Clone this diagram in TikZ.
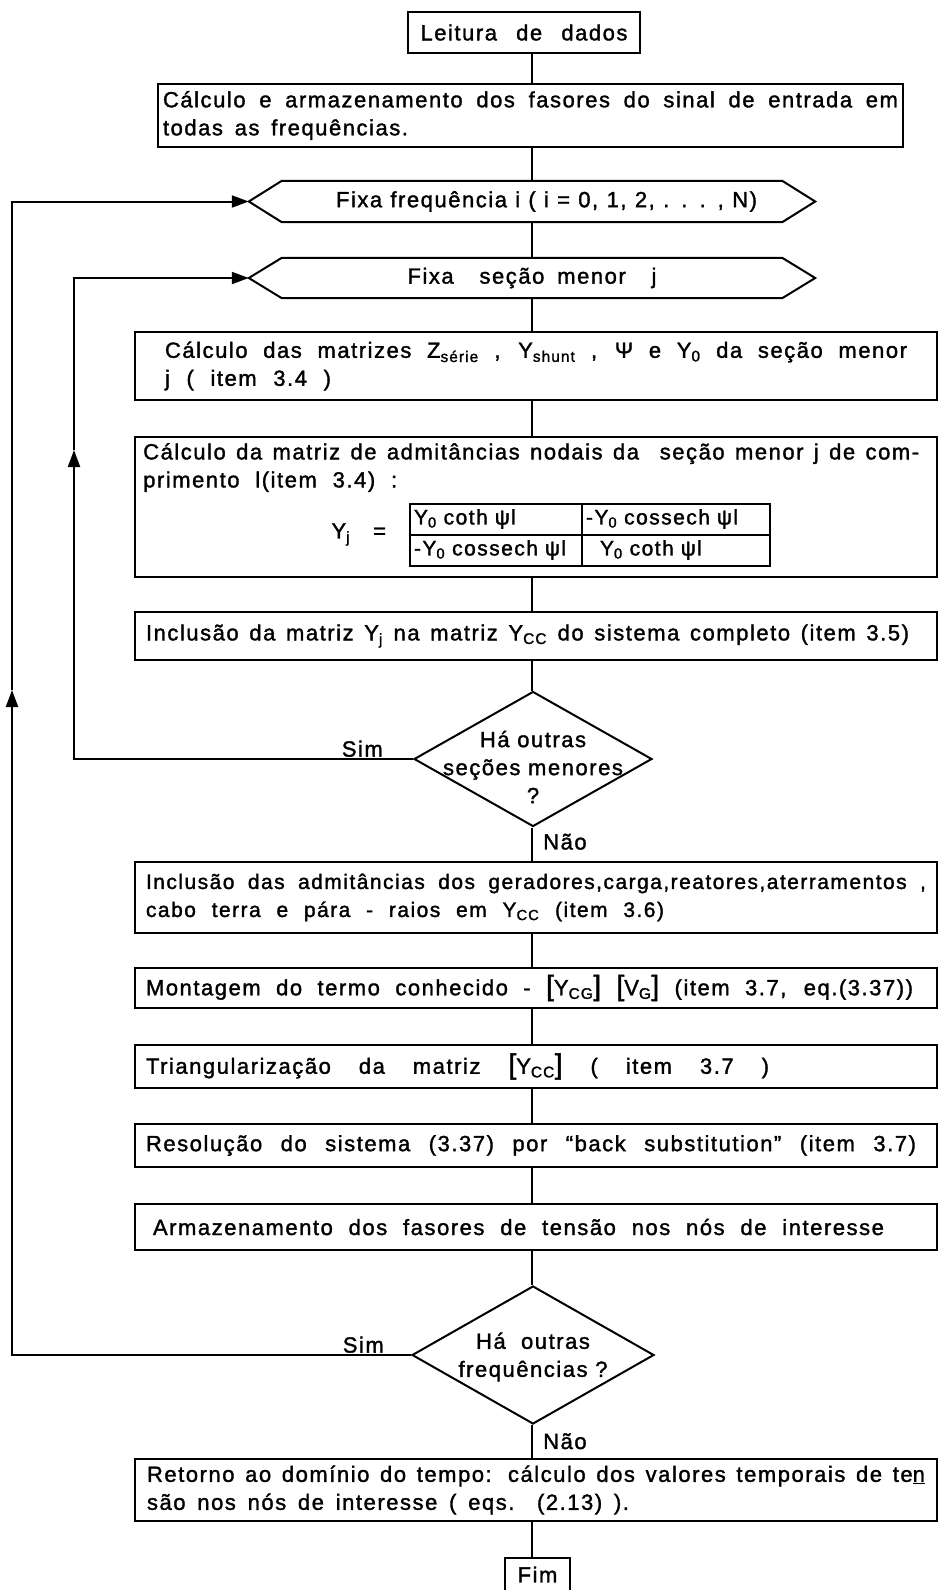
\documentclass[tikz,border=0pt]{standalone}
\usepackage{fontspec}
\setmainfont{Liberation Sans}[LetterSpace=7,FakeBold=1.5]
\usetikzlibrary{arrows.meta,positioning,calc,shapes.geometric,matrix}

% tall square brackets round a matrix name
\newcommand\mbr[1]{{\fontsize{28}{28}\selectfont[}#1{\fontsize{28}{28}\selectfont]}}
% a line of text spread out to a given width
\newcommand\spread[2]{{\spaceskip=0pt\xspaceskip=0pt\makebox[#1][s]{#2}}}
% hexagon (preparation symbol) round a named node
\newcommand\hexa[1]{\draw[line width=2pt] (#1.north west) -- (#1.north east) -- ($(#1.east)+(33,0)$) -- (#1.south east) -- (#1.south west) -- ($(#1.west)+(-33,0)$) -- cycle;}

\begin{document}
\begin{tikzpicture}[x=1pt,y=-1pt,
    every node/.style={font=\fontsize{22}{28}\selectfont},
    small/.style={font=\fontsize{21}{28}\selectfont},
    box/.style={draw,line width=2pt,inner sep=0pt,align=center},
    para/.style={box,minimum width=802pt,align=justify},
    prep/.style={inner sep=0pt,minimum width=500pt},
    decision/.style={diamond,draw,line width=2pt,inner sep=0pt},
    line/.style={line width=2pt},
    arr/.style={line width=2pt,-{Triangle[length=17pt,width=12pt]}},
    lbl/.style={inner sep=2pt}
  ]
  \useasboundingbox (0,0) rectangle (940,1590);

  \node[box,minimum width=232pt,minimum height=41pt] (lei) at (524,32.5) {\spread{207pt}{Leitura de dados}};
  \node[box,minimum width=745pt,minimum height=63pt,text width=735pt,align=justify] (fas) at (530.5,115.5)
    {Cálculo e armazenamento dos fasores do sinal de entrada em\linebreak \spread{245pt}{todas as frequências.}};

  \node[prep,minimum height=41pt] (frq) at (532,201.5) {\hspace*{29pt}\spread{421pt}{Fixa\ frequência i ( i = 0, 1, 2, . . . , N)}};
  \hexa{frq}
  \node[prep,minimum height=40pt] (sec) at (532,278) {\spread{249pt}{Fixa \ seção menor \ j}};
  \hexa{sec}

  \node[para,minimum height=68pt,text width=742pt] (mat) at (536,366)
    {Cálculo das matrizes Z\textsubscript{série} , Y\textsubscript{shunt} , Ψ e Y\textsubscript{0} da seção menor\linebreak \spread{166pt}{j ( item 3.4 )}};

  \node[box,minimum width=802pt,minimum height=140pt] (adm) at (536,507) {};
  \node[anchor=north west,inner sep=0pt,text width=776pt,align=justify] (admt) at (143,443)
    {Cálculo da matriz de admitâncias nodais da\ \ seção menor j de com-\linebreak \spread{254pt}{primento l(item 3.4) :}};
  \matrix (ymat) [matrix of nodes,
      nodes={small,draw,line width=2pt,minimum height=31pt,inner xsep=4pt,inner ysep=0pt,align=left},
      column 1/.style={nodes={text width=164pt}},
      column 2/.style={nodes={text width=180pt}},
      column sep=-2pt,row sep=-2pt] at (590,534.5) {
    Y\textsubscript{0} coth ψl & -Y\textsubscript{0} cossech ψl \\
    -Y\textsubscript{0} cossech ψl & \hspace*{14pt}Y\textsubscript{0} coth ψl \\
  };
  \node[left=16pt of ymat] (yj) {Y\textsubscript{j}\ \ \ =};

  \node[para,minimum height=48pt,text width=780pt,align=left] (inc) at (536,636)
    {\spread{763pt}{Inclusão da matriz Y\textsubscript{j} na matriz Y\textsubscript{CC} do sistema completo (item 3.5)}};

  \node[decision,minimum width=238pt,minimum height=135pt] (dec1) at (533,759) {};
  \node[align=center,inner sep=0pt] (dec1t) at (533,767) {Há outras\\seções menores\\?};
  \node[lbl,above left=0pt and 28pt of dec1.west] (sim1) {Sim};
  \node[lbl,anchor=north west] (nao1) at ($(dec1.south)+(8,4)$) {Não};

  \node[para,small,minimum height=71pt,text width=780pt] (ger) at (536,897.5)
    {Inclusão das admitâncias dos geradores,carga,reatores,aterramentos ,\linebreak \spread{518pt}{cabo terra e pára - raios em Y\textsubscript{CC} (item 3.6)}};
  \node[para,minimum height=40pt,text width=780pt,align=left] (mon) at (536,988)
    {\spread{767pt}{Montagem do termo conhecido - \mbr{Y\textsubscript{CG}} \mbr{V\textsubscript{G}} (item 3.7, eq.(3.37))}};
  \node[para,minimum height=43pt,text width=780pt,align=left] (tri) at (536,1066.5)
    {\spread{623pt}{Triangularização da matriz \mbr{Y\textsubscript{CC}} ( item 3.7 )}};
  \node[para,minimum height=43pt,text width=780pt,align=left] (res) at (536,1145.5)
    {\spread{770pt}{Resolução do sistema (3.37) por ``back substitution'' (item 3.7)}};
  \node[para,minimum height=46pt,text width=766pt,align=left] (arm) at (536,1227)
    {\spread{731pt}{Armazenamento dos fasores de tensão nos nós de interesse}};

  \node[decision,minimum width=242pt,minimum height=138pt] (dec2) at (533,1355) {};
  \node[align=center,inner sep=0pt] (dec2t) at (533,1357) {Há\ \ outras\\frequências ?};
  \node[lbl,above left=0pt and 25pt of dec2.west] (sim2) {Sim};
  \node[lbl,anchor=north west] (nao2) at ($(dec2.south)+(8,6)$) {Não};

  \node[para,minimum height=62pt,text width=778pt] (ret) at (536,1490)
    {Retorno ao domínio do tempo: cálculo dos valores temporais de te\underline{n}\linebreak \spread{482pt}{são nos nós de interesse ( eqs. (2.13) ).}};
  \node[box,minimum width=65pt,minimum height=33pt] (fim) at (537.5,1574.5) {Fim};

  % main column of connectors
  \coordinate (spine) at (532,0);
  \foreach \a/\b in {lei/fas,fas/frq,frq/sec,sec/mat,mat/adm,adm/inc,inc/dec1,dec1/ger,
                     ger/mon,mon/tri,tri/res,res/arm,arm/dec2,dec2/ret,ret/fim}
    \draw[line] (\a.south -| spine) -- (\b.north -| spine);

  % loop back to the next section and to the next frequency
  \coordinate (tip1) at ($(frq.west)+(-33,0)$);
  \coordinate (tip2) at ($(sec.west)+(-33,0)$);
  \coordinate (inx) at (74,450);
  \coordinate (outx) at (12,690);
  \draw[arr] (dec1.west) -- (dec1.west -| inx) -- (inx);
  \draw[arr] (inx) -- (inx |- tip2) -- (tip2);
  \draw[arr] (dec2.west) -- (dec2.west -| outx) -- (outx);
  \draw[arr] (outx) -- (outx |- tip1) -- (tip1);
\end{tikzpicture}
\end{document}
